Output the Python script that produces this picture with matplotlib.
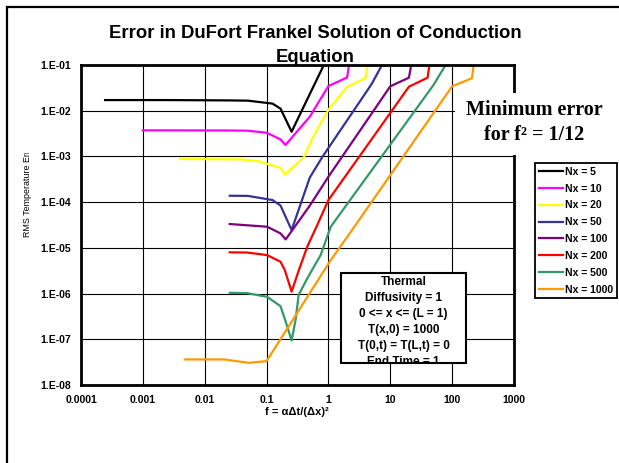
import matplotlib
matplotlib.use('Agg')
import matplotlib.pyplot as plt
from matplotlib.patches import Rectangle
from matplotlib.transforms import Bbox, TransformedBbox

plt.rcParams['font.family'] = ['Liberation Sans', 'DejaVu Sans']

# RMS error vs f (one pair of lists per grid)
f_nx5 = [2.45e-4, 0.0025, 0.025, 0.05, 0.125, 0.168, 0.254, 0.5, 1.25]
err_nx5 = [0.0171, 0.0171, 0.0168, 0.0166, 0.0143, 0.0111, 0.00347, 0.0232, 0.30]

f_nx10 = [0.001, 0.002, 0.02, 0.05, 0.1, 0.168, 0.202, 0.5, 1.0, 2.0, 5.0]
err_nx10 = [3.72e-3, 3.72e-3, 3.7e-3, 3.65e-3, 3.3e-3, 2.37e-3, 1.78e-3, 7.4e-3, 0.0347, 0.0532, 110]

f_nx20 = [0.004, 0.04, 0.075, 0.168, 0.2, 0.4, 0.535, 0.8, 1.04, 2.0, 4.0, 10.0]
err_nx20 = [8.8e-4, 8.6e-4, 7.8e-4, 5.6e-4, 4.06e-4, 9.5e-4, 2.29e-3, 6.25e-3, 0.0113, 0.033, 0.0525, 1200]

f_nx50 = [0.0254, 0.05, 0.125, 0.168, 0.254, 0.5, 0.8, 5.0, 10.0]
err_nx50 = [1.38e-4, 1.37e-4, 1.11e-4, 8.43e-5, 2.45e-5, 3.45e-4, 9.8e-4, 0.0384, 0.216]

f_nx100 = [0.0254, 0.102, 0.168, 0.204, 0.5, 1.0, 10.0, 20.0, 50.0]
err_nx100 = [3.32e-5, 2.9e-5, 2.07e-5, 1.53e-5, 8.4e-5, 3.6e-4, 0.0342, 0.0527, 50]

f_nx200 = [0.0254, 0.0485, 0.102, 0.168, 0.197, 0.254, 0.333, 0.455, 0.66, 1.0, 20.0, 40.0, 100.0]
err_nx200 = [7.98e-6, 7.9e-6, 6.95e-6, 4.97e-6, 3.27e-6, 1.1e-6, 3.27e-6, 1.06e-5, 3.16e-5, 1.11e-4,
             0.0335, 0.0527, 200]

f_nx500 = [0.0254, 0.0485, 0.102, 0.168, 0.2, 0.254, 0.294, 0.33, 0.455, 0.748, 1.09, 50.0, 100.0]
err_nx500 = [1.04e-6, 1.02e-6, 8.5e-7, 5.3e-7, 2.63e-7, 9.4e-8, 2.63e-7, 9.3e-7, 2.15e-6, 6.95e-6,
             2.9e-5, 0.0365, 0.174]

f_nx1000 = [0.00485, 0.0202, 0.0514, 0.1, 1.09, 2.29, 100.0, 209.0, 500.0]
err_nx1000 = [3.63e-8, 3.63e-8, 3.06e-8, 3.33e-8, 5.4e-6, 2.22e-5, 0.0342, 0.0513, 500]

series_labels = ['Nx = 5', 'Nx = 10', 'Nx = 20', 'Nx = 50', 'Nx = 100', 'Nx = 200', 'Nx = 500', 'Nx = 1000']
series_f = [f_nx5, f_nx10, f_nx20, f_nx50, f_nx100, f_nx200, f_nx500, f_nx1000]
series_err = [err_nx5, err_nx10, err_nx20, err_nx50, err_nx100, err_nx200, err_nx500, err_nx1000]
colors = ['#000000', '#FF00FF', '#FFFF00', '#333399', '#800080', '#FF0000', '#339966', '#FF9900']

x_ticks = [1e-4, 1e-3, 1e-2, 1e-1, 1, 10, 100, 1000]
x_tick_labels = ['0.0001', '0.001', '0.01', '0.1', '1', '10', '100', '1000']
y_ticks = [1e-8, 1e-7, 1e-6, 1e-5, 1e-4, 1e-3, 1e-2, 1e-1]
y_tick_labels = ['1.E-08', '1.E-07', '1.E-06', '1.E-05', '1.E-04', '1.E-03', '1.E-02', '1.E-01']

W, H = 619, 463
fig = plt.figure(figsize=(W / 100, H / 100), dpi=100)
ax = fig.add_axes([81 / W, 1 - 385 / H, (514 - 81) / W, (385 - 65) / H])

for f, e, c, lab in zip(series_f, series_err, colors, series_labels):
    ax.plot(f, e, color=c, lw=1.6, label=lab)

ax.set_xscale('log')
ax.set_yscale('log')
ax.set_xlim(1e-4, 1e3)
ax.set_ylim(1e-8, 1e-1)
ax.set_xticks(x_ticks)
ax.set_xticklabels(x_tick_labels)
ax.set_yticks(y_ticks)
ax.set_yticklabels(y_tick_labels)
ax.minorticks_off()
ax.tick_params(length=0, labelsize=7.5, pad=7)
for t in ax.get_xticklabels() + ax.get_yticklabels():
    t.set_fontweight('bold')
ax.grid(True, color='black', lw=0.8)
ax.set_axisbelow(True)
for s in ax.spines.values():
    s.set_linewidth(2)

# outer chart border
fig.add_artist(Rectangle((7 / W, -0.1), 2, 1 - 7 / H + 0.1, fill=False, ec='black', lw=1.6,
                         transform=fig.transFigure))

fig.text(315 / W, 1 - 45.5 / H, 'Error in DuFort Frankel Solution of Conduction\nEquation',
         ha='center', va='center', fontsize=13.3, weight='bold', linespacing=1.5)

fig.text(297 / W, 1 - 412 / H, 'f = αΔt/(Δx)²', ha='center', va='center', fontsize=8, weight='bold')

ylab = fig.text(27 / W, 1 - 237 / H, 'RMS Temperature Error', rotation=90, ha='center', va='bottom',
                fontsize=6.4)
ylab.set_clip_box(TransformedBbox(Bbox([[0, 0], [1, 1 - 153 / H]]), fig.transFigure))
ylab.set_clip_on(True)

# minimum error note
fig.add_artist(Rectangle((455 / W, 1 - 155 / H), 0.5, (155 - 93) / H, fc='white', ec='none',
                         transform=fig.transFigure, zorder=2))
fig.text(534 / W, 1 - 122.5 / H, 'Minimum error\nfor f² = 1/12', ha='center', va='center',
         family='Liberation Serif', weight='bold', fontsize=14.5, linespacing=1.32, zorder=3)

# parameter box
box = Rectangle((341 / W, 1 - 363 / H), 125 / W, 90 / H, fc='white', ec='black', lw=1.5,
                transform=fig.transFigure, zorder=4)
fig.add_artist(box)
info = fig.text(403.5 / W, 1 - 276 / H,
                'Thermal\nDiffusivity = 1\n0 <= x <= (L = 1)\nT(x,0) = 1000\nT(0,t) = T(L,t) = 0\nEnd Time = 1',
                ha='center', va='top', fontsize=8.5, weight='bold', linespacing=1.45, zorder=5)
info.set_clip_box(TransformedBbox(Bbox([[341 / W, 1 - 362 / H], [466 / W, 1 - 273 / H]]),
                                  fig.transFigure))
info.set_clip_on(True)

leg = ax.legend(loc='upper left', bbox_to_anchor=(535 / W, 1 - 163 / H), bbox_transform=fig.transFigure,
                borderaxespad=0, frameon=True, fancybox=False, edgecolor='black', framealpha=1,
                prop=dict(family='Liberation Sans', weight='bold', size=7.5),
                handlelength=2.3, handletextpad=0.25, labelspacing=0.66, borderpad=0.35)
leg.get_frame().set_linewidth(1.3)
leg.set_zorder(6)

fig.savefig('out.png', dpi=100)
